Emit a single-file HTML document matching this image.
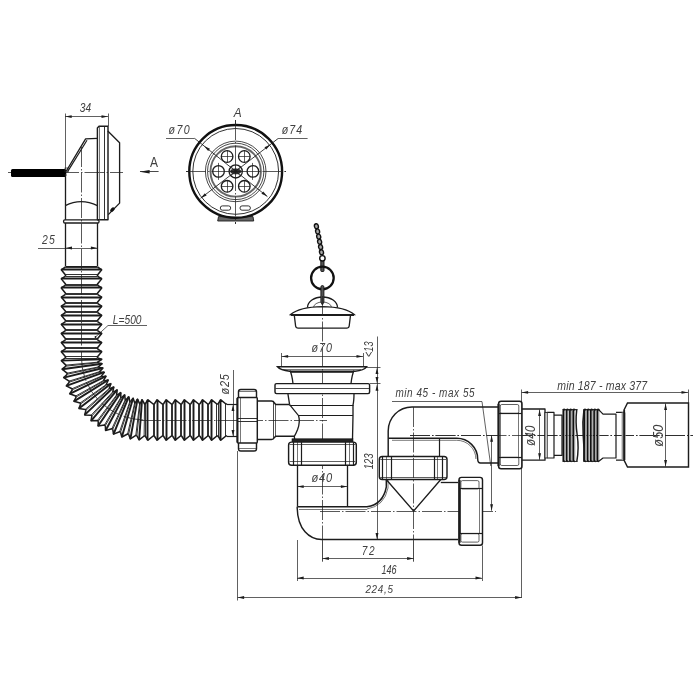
<!DOCTYPE html>
<html><head><meta charset="utf-8"><style>
html,body{margin:0;padding:0;background:#fff;}
svg{display:block;will-change:transform;}
text{font-family:"Liberation Sans",sans-serif;}
.t{opacity:0.995;}
</style></head><body>
<svg width="700" height="700" viewBox="0 0 700 700">
<rect width="700" height="700" fill="#fff"/>
<line x1="8" y1="172.5" x2="123" y2="172.5" stroke="#222" stroke-width="0.75" stroke-dasharray="20 2 1.5 2"/>
<rect x="11" y="168.9" width="55.3" height="8" rx="1.5" fill="#000"/>
<line x1="65.5" y1="113.5" x2="65.5" y2="169" stroke="#1c1c1c" stroke-width="0.70" />
<line x1="108.5" y1="113.5" x2="108.5" y2="126" stroke="#1c1c1c" stroke-width="0.70" />
<line x1="65.2" y1="116.5" x2="108" y2="116.5" stroke="#1c1c1c" stroke-width="0.70" />
<path d="M65.2,116.6 L71.7,115.15 L71.7,118.05 Z" fill="#1c1c1c" stroke="none"/>
<path d="M108,116.6 L101.5,118.05 L101.5,115.15 Z" fill="#1c1c1c" stroke="none"/>
<text class="t" transform="translate(79.75,112.4) scale(0.829,1)" font-size="12.29" font-style="italic" fill="#404040">34</text>
<path d="M97.4,219.8 L97.4,128 L99,126.3 L108,126.3 L108,219.8 L97.4,219.8 Z" fill="none" stroke="#1c1c1c" stroke-width="1.44" stroke-linejoin="round"/>
<line x1="99.5" y1="126.8" x2="99.5" y2="219.3" stroke="#666" stroke-width="0.90" />
<line x1="104.5" y1="126.3" x2="104.5" y2="219.8" stroke="#1c1c1c" stroke-width="0.90" />
<path d="M107.8,131 L119.6,142.8 L119.6,203.1 L108.3,214.6" fill="none" stroke="#1c1c1c" stroke-width="1.32" stroke-linejoin="round"/>
<ellipse cx="112.4" cy="209.6" rx="1.7" ry="2.7" transform="rotate(45 112.4 209.6)" fill="#111"/>
<path d="M97.4,138.4 L85.6,138.9 L66,171.5" fill="none" stroke="#1c1c1c" stroke-width="1.32" stroke-linejoin="round"/>
<line x1="87" y1="140.2" x2="67.6" y2="171.6" stroke="#1c1c1c" stroke-width="1.20" />
<rect x="65" y="168" width="3" height="4" fill="none" stroke="#222" stroke-width="0.70"/>
<line x1="65.5" y1="174" x2="65.5" y2="205.6" stroke="#1c1c1c" stroke-width="1.32" />
<path d="M65.2,205.6 Q81,197.5 97.4,205.6" fill="none" stroke="#1c1c1c" stroke-width="1.32" />
<line x1="65.5" y1="205.6" x2="65.5" y2="219.8" stroke="#1c1c1c" stroke-width="1.32" />
<rect x="63.6" y="219.8" width="35.4" height="3.2" rx="1.2" fill="none" stroke="#1c1c1c" stroke-width="1.32"/>
<line x1="65.5" y1="223" x2="65.5" y2="266.3" stroke="#1c1c1c" stroke-width="1.32" />
<line x1="97.5" y1="223" x2="97.5" y2="266.3" stroke="#1c1c1c" stroke-width="1.32" />
<line x1="65.5" y1="266.5" x2="97.4" y2="266.5" stroke="#1c1c1c" stroke-width="1.20" />
<line x1="81.5" y1="147" x2="81.5" y2="358" stroke="#222" stroke-width="0.75" stroke-dasharray="20 2 1.5 2"/>
<line x1="38" y1="248.5" x2="97.4" y2="248.5" stroke="#1c1c1c" stroke-width="0.70" />
<path d="M65.5,248 L72,246.55 L72,249.45 Z" fill="#1c1c1c" stroke="none"/>
<path d="M97.4,248 L90.9,249.45 L90.9,246.55 Z" fill="#1c1c1c" stroke="none"/>
<text class="t" transform="translate(42.1,243.9) scale(0.840,1)" font-size="12.43" font-style="italic" letter-spacing="1.37" fill="#404040">25</text>
<path d="M65.5,267 L61.3,269.78 L65.5,274.94 L65.5,276.1" fill="none" stroke="#1c1c1c" stroke-width="1.56" stroke-linejoin="round"/>
<path d="M97.5,267 L101.7,269.78 L97.5,274.94 L97.5,276.1" fill="none" stroke="#1c1c1c" stroke-width="1.56" stroke-linejoin="round"/>
<line x1="65.5" y1="267.5" x2="97.5" y2="267.5" stroke="#1c1c1c" stroke-width="0.90" />
<line x1="61.3" y1="269.5" x2="101.7" y2="269.5" stroke="#1c1c1c" stroke-width="1.92" />
<line x1="65.5" y1="274.5" x2="97.5" y2="274.5" stroke="#1c1c1c" stroke-width="0.90" />
<path d="M65.5,276.1 L61.3,278.88 L65.5,284.04 L65.5,285.2" fill="none" stroke="#1c1c1c" stroke-width="1.56" stroke-linejoin="round"/>
<path d="M97.5,276.1 L101.7,278.88 L97.5,284.04 L97.5,285.2" fill="none" stroke="#1c1c1c" stroke-width="1.56" stroke-linejoin="round"/>
<line x1="65.5" y1="276.5" x2="97.5" y2="276.5" stroke="#1c1c1c" stroke-width="0.90" />
<line x1="61.3" y1="278.5" x2="101.7" y2="278.5" stroke="#1c1c1c" stroke-width="1.92" />
<line x1="65.5" y1="284.5" x2="97.5" y2="284.5" stroke="#1c1c1c" stroke-width="0.90" />
<path d="M65.5,285.2 L61.3,287.98 L65.5,293.14 L65.5,294.3" fill="none" stroke="#1c1c1c" stroke-width="1.56" stroke-linejoin="round"/>
<path d="M97.5,285.2 L101.7,287.98 L97.5,293.14 L97.5,294.3" fill="none" stroke="#1c1c1c" stroke-width="1.56" stroke-linejoin="round"/>
<line x1="65.5" y1="285.5" x2="97.5" y2="285.5" stroke="#1c1c1c" stroke-width="0.90" />
<line x1="61.3" y1="287.5" x2="101.7" y2="287.5" stroke="#1c1c1c" stroke-width="1.92" />
<line x1="65.5" y1="293.5" x2="97.5" y2="293.5" stroke="#1c1c1c" stroke-width="0.90" />
<path d="M65.5,294.3 L61.3,297.08 L65.5,302.24 L65.5,303.4" fill="none" stroke="#1c1c1c" stroke-width="1.56" stroke-linejoin="round"/>
<path d="M97.5,294.3 L101.7,297.08 L97.5,302.24 L97.5,303.4" fill="none" stroke="#1c1c1c" stroke-width="1.56" stroke-linejoin="round"/>
<line x1="65.5" y1="294.5" x2="97.5" y2="294.5" stroke="#1c1c1c" stroke-width="0.90" />
<line x1="61.3" y1="297.5" x2="101.7" y2="297.5" stroke="#1c1c1c" stroke-width="1.92" />
<line x1="65.5" y1="302.5" x2="97.5" y2="302.5" stroke="#1c1c1c" stroke-width="0.90" />
<path d="M65.5,303.4 L61.3,306.18 L65.5,311.34 L65.5,312.5" fill="none" stroke="#1c1c1c" stroke-width="1.56" stroke-linejoin="round"/>
<path d="M97.5,303.4 L101.7,306.18 L97.5,311.34 L97.5,312.5" fill="none" stroke="#1c1c1c" stroke-width="1.56" stroke-linejoin="round"/>
<line x1="65.5" y1="303.5" x2="97.5" y2="303.5" stroke="#1c1c1c" stroke-width="0.90" />
<line x1="61.3" y1="306.5" x2="101.7" y2="306.5" stroke="#1c1c1c" stroke-width="1.92" />
<line x1="65.5" y1="311.5" x2="97.5" y2="311.5" stroke="#1c1c1c" stroke-width="0.90" />
<path d="M65.5,312.5 L61.3,315.28 L65.5,320.44 L65.5,321.6" fill="none" stroke="#1c1c1c" stroke-width="1.56" stroke-linejoin="round"/>
<path d="M97.5,312.5 L101.7,315.28 L97.5,320.44 L97.5,321.6" fill="none" stroke="#1c1c1c" stroke-width="1.56" stroke-linejoin="round"/>
<line x1="65.5" y1="312.5" x2="97.5" y2="312.5" stroke="#1c1c1c" stroke-width="0.90" />
<line x1="61.3" y1="315.5" x2="101.7" y2="315.5" stroke="#1c1c1c" stroke-width="1.92" />
<line x1="65.5" y1="320.5" x2="97.5" y2="320.5" stroke="#1c1c1c" stroke-width="0.90" />
<path d="M65.5,321.6 L61.3,324.38 L65.5,329.54 L65.5,330.7" fill="none" stroke="#1c1c1c" stroke-width="1.56" stroke-linejoin="round"/>
<path d="M97.5,321.6 L101.7,324.38 L97.5,329.54 L97.5,330.7" fill="none" stroke="#1c1c1c" stroke-width="1.56" stroke-linejoin="round"/>
<line x1="65.5" y1="321.5" x2="97.5" y2="321.5" stroke="#1c1c1c" stroke-width="0.90" />
<line x1="61.3" y1="324.5" x2="101.7" y2="324.5" stroke="#1c1c1c" stroke-width="1.92" />
<line x1="65.5" y1="329.5" x2="97.5" y2="329.5" stroke="#1c1c1c" stroke-width="0.90" />
<path d="M65.5,330.7 L61.3,333.48 L65.5,338.64 L65.5,339.8" fill="none" stroke="#1c1c1c" stroke-width="1.56" stroke-linejoin="round"/>
<path d="M97.5,330.7 L101.7,333.48 L97.5,338.64 L97.5,339.8" fill="none" stroke="#1c1c1c" stroke-width="1.56" stroke-linejoin="round"/>
<line x1="65.5" y1="330.5" x2="97.5" y2="330.5" stroke="#1c1c1c" stroke-width="0.90" />
<line x1="61.3" y1="333.5" x2="101.7" y2="333.5" stroke="#1c1c1c" stroke-width="1.92" />
<line x1="65.5" y1="338.5" x2="97.5" y2="338.5" stroke="#1c1c1c" stroke-width="0.90" />
<path d="M65.5,339.8 L61.3,342.58 L65.5,347.74 L65.5,348.9" fill="none" stroke="#1c1c1c" stroke-width="1.56" stroke-linejoin="round"/>
<path d="M97.5,339.8 L101.7,342.58 L97.5,347.74 L97.5,348.9" fill="none" stroke="#1c1c1c" stroke-width="1.56" stroke-linejoin="round"/>
<line x1="65.5" y1="339.5" x2="97.5" y2="339.5" stroke="#1c1c1c" stroke-width="0.90" />
<line x1="61.3" y1="342.5" x2="101.7" y2="342.5" stroke="#1c1c1c" stroke-width="1.92" />
<line x1="65.5" y1="347.5" x2="97.5" y2="347.5" stroke="#1c1c1c" stroke-width="0.90" />
<path d="M65.5,348.9 L61.3,351.68 L65.5,356.84 L65.5,358" fill="none" stroke="#1c1c1c" stroke-width="1.56" stroke-linejoin="round"/>
<path d="M97.5,348.9 L101.7,351.68 L97.5,356.84 L97.5,358" fill="none" stroke="#1c1c1c" stroke-width="1.56" stroke-linejoin="round"/>
<line x1="65.5" y1="348.5" x2="97.5" y2="348.5" stroke="#1c1c1c" stroke-width="0.90" />
<line x1="61.3" y1="351.5" x2="101.7" y2="351.5" stroke="#1c1c1c" stroke-width="1.92" />
<line x1="65.5" y1="356.5" x2="97.5" y2="356.5" stroke="#1c1c1c" stroke-width="0.90" />
<path d="M65.5,358 L61.34,360.63 L65.83,365.11 L65.94,366.15" fill="none" stroke="#1c1c1c" stroke-width="1.56" stroke-linejoin="round"/>
<path d="M97.5,358 L101.72,359.34 L97.7,362.2 L97.76,362.81" fill="none" stroke="#1c1c1c" stroke-width="1.56" stroke-linejoin="round"/>
<line x1="65.5" y1="358.5" x2="97.5" y2="358.5" stroke="#1c1c1c" stroke-width="0.90" />
<line x1="61.34" y1="360.63" x2="101.72" y2="359.34" stroke="#1c1c1c" stroke-width="1.92" />
<line x1="65.83" y1="365.11" x2="97.7" y2="362.2" stroke="#1c1c1c" stroke-width="0.90" />
<path d="M65.94,366.15 L62.08,369.2 L67.03,373.19 L67.24,374.22" fill="none" stroke="#1c1c1c" stroke-width="1.56" stroke-linejoin="round"/>
<path d="M97.76,362.81 L102.11,363.7 L98.41,366.96 L98.54,367.56" fill="none" stroke="#1c1c1c" stroke-width="1.56" stroke-linejoin="round"/>
<line x1="65.94" y1="366.15" x2="97.76" y2="362.81" stroke="#1c1c1c" stroke-width="0.90" />
<line x1="62.08" y1="369.2" x2="102.11" y2="363.7" stroke="#1c1c1c" stroke-width="1.92" />
<line x1="67.03" y1="373.19" x2="98.41" y2="366.96" stroke="#1c1c1c" stroke-width="0.90" />
<path d="M67.24,374.22 L63.73,377.65 L69.08,381.11 L69.4,382.1" fill="none" stroke="#1c1c1c" stroke-width="1.56" stroke-linejoin="round"/>
<path d="M98.54,367.56 L102.96,367.99 L99.64,371.63 L99.83,372.21" fill="none" stroke="#1c1c1c" stroke-width="1.56" stroke-linejoin="round"/>
<line x1="67.24" y1="374.22" x2="98.54" y2="367.56" stroke="#1c1c1c" stroke-width="0.90" />
<line x1="63.73" y1="377.65" x2="102.96" y2="367.99" stroke="#1c1c1c" stroke-width="1.92" />
<line x1="69.08" y1="381.11" x2="99.64" y2="371.63" stroke="#1c1c1c" stroke-width="0.90" />
<path d="M69.4,382.1 L66.28,385.89 L71.96,388.77 L72.39,389.73" fill="none" stroke="#1c1c1c" stroke-width="1.56" stroke-linejoin="round"/>
<path d="M99.83,372.21 L104.28,372.18 L101.37,376.15 L101.62,376.71" fill="none" stroke="#1c1c1c" stroke-width="1.56" stroke-linejoin="round"/>
<line x1="69.4" y1="382.1" x2="99.83" y2="372.21" stroke="#1c1c1c" stroke-width="0.90" />
<line x1="66.28" y1="385.89" x2="104.28" y2="372.18" stroke="#1c1c1c" stroke-width="1.92" />
<line x1="71.96" y1="388.77" x2="101.37" y2="376.15" stroke="#1c1c1c" stroke-width="0.90" />
<path d="M72.39,389.73 L69.68,393.82 L75.65,396.09 L76.18,397" fill="none" stroke="#1c1c1c" stroke-width="1.56" stroke-linejoin="round"/>
<path d="M101.62,376.71 L106.05,376.21 L103.58,380.46 L103.89,381" fill="none" stroke="#1c1c1c" stroke-width="1.56" stroke-linejoin="round"/>
<line x1="72.39" y1="389.73" x2="101.62" y2="376.71" stroke="#1c1c1c" stroke-width="0.90" />
<line x1="69.68" y1="393.82" x2="106.05" y2="376.21" stroke="#1c1c1c" stroke-width="1.92" />
<line x1="75.65" y1="396.09" x2="103.58" y2="380.46" stroke="#1c1c1c" stroke-width="0.90" />
<path d="M76.18,397 L73.92,401.36 L80.1,403 L80.72,403.85" fill="none" stroke="#1c1c1c" stroke-width="1.56" stroke-linejoin="round"/>
<path d="M103.89,381 L108.24,380.05 L106.24,384.54 L106.61,385.04" fill="none" stroke="#1c1c1c" stroke-width="1.56" stroke-linejoin="round"/>
<line x1="76.18" y1="397" x2="103.89" y2="381" stroke="#1c1c1c" stroke-width="0.90" />
<line x1="73.92" y1="401.36" x2="108.24" y2="380.05" stroke="#1c1c1c" stroke-width="1.92" />
<line x1="80.1" y1="403" x2="106.24" y2="384.54" stroke="#1c1c1c" stroke-width="0.90" />
<path d="M80.72,403.85 L78.94,408.42 L85.26,409.41 L85.97,410.19" fill="none" stroke="#1c1c1c" stroke-width="1.56" stroke-linejoin="round"/>
<path d="M106.61,385.04 L110.84,383.64 L109.33,388.32 L109.75,388.78" fill="none" stroke="#1c1c1c" stroke-width="1.56" stroke-linejoin="round"/>
<line x1="80.72" y1="403.85" x2="106.61" y2="385.04" stroke="#1c1c1c" stroke-width="0.90" />
<line x1="78.94" y1="408.42" x2="110.84" y2="383.64" stroke="#1c1c1c" stroke-width="1.92" />
<line x1="85.26" y1="409.41" x2="109.33" y2="388.32" stroke="#1c1c1c" stroke-width="0.90" />
<path d="M85.97,410.19 L84.68,414.93 L91.08,415.26 L91.87,415.97" fill="none" stroke="#1c1c1c" stroke-width="1.56" stroke-linejoin="round"/>
<path d="M109.75,388.78 L113.82,386.95 L112.81,391.77 L113.28,392.18" fill="none" stroke="#1c1c1c" stroke-width="1.56" stroke-linejoin="round"/>
<line x1="85.97" y1="410.19" x2="109.75" y2="388.78" stroke="#1c1c1c" stroke-width="0.90" />
<line x1="84.68" y1="414.93" x2="113.82" y2="386.95" stroke="#1c1c1c" stroke-width="1.92" />
<line x1="91.08" y1="415.26" x2="112.81" y2="391.77" stroke="#1c1c1c" stroke-width="0.90" />
<path d="M91.87,415.97 L91.08,420.81 L97.49,420.48 L98.35,421.1" fill="none" stroke="#1c1c1c" stroke-width="1.56" stroke-linejoin="round"/>
<path d="M113.28,392.18 L117.14,389.94 L116.65,394.85 L117.16,395.21" fill="none" stroke="#1c1c1c" stroke-width="1.56" stroke-linejoin="round"/>
<line x1="91.87" y1="415.97" x2="113.28" y2="392.18" stroke="#1c1c1c" stroke-width="0.90" />
<line x1="91.08" y1="420.81" x2="117.14" y2="389.94" stroke="#1c1c1c" stroke-width="1.92" />
<line x1="97.49" y1="420.48" x2="116.65" y2="394.85" stroke="#1c1c1c" stroke-width="0.90" />
<path d="M98.35,421.1 L98.08,426.01 L104.43,425.02 L105.35,425.55" fill="none" stroke="#1c1c1c" stroke-width="1.56" stroke-linejoin="round"/>
<path d="M117.16,395.21 L120.77,392.59 L120.8,397.53 L121.35,397.84" fill="none" stroke="#1c1c1c" stroke-width="1.56" stroke-linejoin="round"/>
<line x1="98.35" y1="421.1" x2="117.16" y2="395.21" stroke="#1c1c1c" stroke-width="0.90" />
<line x1="98.08" y1="426.01" x2="120.77" y2="392.59" stroke="#1c1c1c" stroke-width="1.92" />
<line x1="104.43" y1="425.02" x2="120.8" y2="397.53" stroke="#1c1c1c" stroke-width="0.90" />
<path d="M105.35,425.55 L105.6,430.47 L111.81,428.83 L112.78,429.26" fill="none" stroke="#1c1c1c" stroke-width="1.56" stroke-linejoin="round"/>
<path d="M121.35,397.84 L124.67,394.85 L125.22,399.77 L125.8,400.02" fill="none" stroke="#1c1c1c" stroke-width="1.56" stroke-linejoin="round"/>
<line x1="105.35" y1="425.55" x2="121.35" y2="397.84" stroke="#1c1c1c" stroke-width="0.90" />
<line x1="105.6" y1="430.47" x2="124.67" y2="394.85" stroke="#1c1c1c" stroke-width="1.92" />
<line x1="111.81" y1="428.83" x2="125.22" y2="399.77" stroke="#1c1c1c" stroke-width="0.90" />
<path d="M112.78,429.26 L113.54,434.12 L119.56,431.85 L120.57,432.18" fill="none" stroke="#1c1c1c" stroke-width="1.56" stroke-linejoin="round"/>
<path d="M125.8,400.02 L128.79,396.71 L129.85,401.55 L130.46,401.75" fill="none" stroke="#1c1c1c" stroke-width="1.56" stroke-linejoin="round"/>
<line x1="112.78" y1="429.26" x2="125.8" y2="400.02" stroke="#1c1c1c" stroke-width="0.90" />
<line x1="113.54" y1="434.12" x2="128.79" y2="396.71" stroke="#1c1c1c" stroke-width="1.92" />
<line x1="119.56" y1="431.85" x2="129.85" y2="401.55" stroke="#1c1c1c" stroke-width="0.90" />
<path d="M120.57,432.18 L121.84,436.95 L127.59,434.07 L128.63,434.3" fill="none" stroke="#1c1c1c" stroke-width="1.56" stroke-linejoin="round"/>
<path d="M130.46,401.75 L133.09,398.15 L134.66,402.86 L135.28,402.99" fill="none" stroke="#1c1c1c" stroke-width="1.56" stroke-linejoin="round"/>
<line x1="120.57" y1="432.18" x2="130.46" y2="401.75" stroke="#1c1c1c" stroke-width="0.90" />
<line x1="121.84" y1="436.95" x2="133.09" y2="398.15" stroke="#1c1c1c" stroke-width="1.92" />
<line x1="127.59" y1="434.07" x2="134.66" y2="402.86" stroke="#1c1c1c" stroke-width="0.90" />
<path d="M128.63,434.3 L130.39,438.91 L135.81,435.46 L136.87,435.57" fill="none" stroke="#1c1c1c" stroke-width="1.56" stroke-linejoin="round"/>
<path d="M135.28,402.99 L137.52,399.14 L139.58,403.68 L140.21,403.75" fill="none" stroke="#1c1c1c" stroke-width="1.56" stroke-linejoin="round"/>
<line x1="128.63" y1="434.3" x2="135.28" y2="402.99" stroke="#1c1c1c" stroke-width="0.90" />
<line x1="130.39" y1="438.91" x2="137.52" y2="399.14" stroke="#1c1c1c" stroke-width="1.92" />
<line x1="135.81" y1="435.46" x2="139.58" y2="403.68" stroke="#1c1c1c" stroke-width="0.90" />
<path d="M136.87,435.57 L139.1,439.98 L144.13,435.99 L145.2,436" fill="none" stroke="#1c1c1c" stroke-width="1.56" stroke-linejoin="round"/>
<path d="M140.21,403.75 L142.04,399.69 L144.56,404 L145.2,404" fill="none" stroke="#1c1c1c" stroke-width="1.56" stroke-linejoin="round"/>
<line x1="136.87" y1="435.57" x2="140.21" y2="403.75" stroke="#1c1c1c" stroke-width="0.90" />
<line x1="139.1" y1="439.98" x2="142.04" y2="399.69" stroke="#1c1c1c" stroke-width="1.92" />
<line x1="144.13" y1="435.99" x2="144.56" y2="404" stroke="#1c1c1c" stroke-width="0.90" />
<path d="M81.5,358.0 A63.7,62.0 0 0 0 145.2,420.0" fill="none" stroke="#222" stroke-width="0.80" stroke-dasharray="20 2 1.5 2"/>
<path d="M145.2,436 L147.98,440.2 L153.14,436 L154.3,436" fill="none" stroke="#1c1c1c" stroke-width="1.56" stroke-linejoin="round"/>
<path d="M145.2,404 L147.98,399.8 L153.14,404 L154.3,404" fill="none" stroke="#1c1c1c" stroke-width="1.56" stroke-linejoin="round"/>
<line x1="145.5" y1="436" x2="145.5" y2="404" stroke="#1c1c1c" stroke-width="0.90" />
<line x1="147.5" y1="440.2" x2="147.5" y2="399.8" stroke="#1c1c1c" stroke-width="1.92" />
<line x1="153.5" y1="436" x2="153.5" y2="404" stroke="#1c1c1c" stroke-width="0.90" />
<path d="M154.3,436 L157.08,440.2 L162.24,436 L163.4,436" fill="none" stroke="#1c1c1c" stroke-width="1.56" stroke-linejoin="round"/>
<path d="M154.3,404 L157.08,399.8 L162.24,404 L163.4,404" fill="none" stroke="#1c1c1c" stroke-width="1.56" stroke-linejoin="round"/>
<line x1="154.5" y1="436" x2="154.5" y2="404" stroke="#1c1c1c" stroke-width="0.90" />
<line x1="157.5" y1="440.2" x2="157.5" y2="399.8" stroke="#1c1c1c" stroke-width="1.92" />
<line x1="162.5" y1="436" x2="162.5" y2="404" stroke="#1c1c1c" stroke-width="0.90" />
<path d="M163.4,436 L166.18,440.2 L171.34,436 L172.5,436" fill="none" stroke="#1c1c1c" stroke-width="1.56" stroke-linejoin="round"/>
<path d="M163.4,404 L166.18,399.8 L171.34,404 L172.5,404" fill="none" stroke="#1c1c1c" stroke-width="1.56" stroke-linejoin="round"/>
<line x1="163.5" y1="436" x2="163.5" y2="404" stroke="#1c1c1c" stroke-width="0.90" />
<line x1="166.5" y1="440.2" x2="166.5" y2="399.8" stroke="#1c1c1c" stroke-width="1.92" />
<line x1="171.5" y1="436" x2="171.5" y2="404" stroke="#1c1c1c" stroke-width="0.90" />
<path d="M172.5,436 L175.28,440.2 L180.44,436 L181.6,436" fill="none" stroke="#1c1c1c" stroke-width="1.56" stroke-linejoin="round"/>
<path d="M172.5,404 L175.28,399.8 L180.44,404 L181.6,404" fill="none" stroke="#1c1c1c" stroke-width="1.56" stroke-linejoin="round"/>
<line x1="172.5" y1="436" x2="172.5" y2="404" stroke="#1c1c1c" stroke-width="0.90" />
<line x1="175.5" y1="440.2" x2="175.5" y2="399.8" stroke="#1c1c1c" stroke-width="1.92" />
<line x1="180.5" y1="436" x2="180.5" y2="404" stroke="#1c1c1c" stroke-width="0.90" />
<path d="M181.6,436 L184.38,440.2 L189.54,436 L190.7,436" fill="none" stroke="#1c1c1c" stroke-width="1.56" stroke-linejoin="round"/>
<path d="M181.6,404 L184.38,399.8 L189.54,404 L190.7,404" fill="none" stroke="#1c1c1c" stroke-width="1.56" stroke-linejoin="round"/>
<line x1="181.5" y1="436" x2="181.5" y2="404" stroke="#1c1c1c" stroke-width="0.90" />
<line x1="184.5" y1="440.2" x2="184.5" y2="399.8" stroke="#1c1c1c" stroke-width="1.92" />
<line x1="189.5" y1="436" x2="189.5" y2="404" stroke="#1c1c1c" stroke-width="0.90" />
<path d="M190.7,436 L193.48,440.2 L198.64,436 L199.8,436" fill="none" stroke="#1c1c1c" stroke-width="1.56" stroke-linejoin="round"/>
<path d="M190.7,404 L193.48,399.8 L198.64,404 L199.8,404" fill="none" stroke="#1c1c1c" stroke-width="1.56" stroke-linejoin="round"/>
<line x1="190.5" y1="436" x2="190.5" y2="404" stroke="#1c1c1c" stroke-width="0.90" />
<line x1="193.5" y1="440.2" x2="193.5" y2="399.8" stroke="#1c1c1c" stroke-width="1.92" />
<line x1="198.5" y1="436" x2="198.5" y2="404" stroke="#1c1c1c" stroke-width="0.90" />
<path d="M199.8,436 L202.58,440.2 L207.74,436 L208.9,436" fill="none" stroke="#1c1c1c" stroke-width="1.56" stroke-linejoin="round"/>
<path d="M199.8,404 L202.58,399.8 L207.74,404 L208.9,404" fill="none" stroke="#1c1c1c" stroke-width="1.56" stroke-linejoin="round"/>
<line x1="199.5" y1="436" x2="199.5" y2="404" stroke="#1c1c1c" stroke-width="0.90" />
<line x1="202.5" y1="440.2" x2="202.5" y2="399.8" stroke="#1c1c1c" stroke-width="1.92" />
<line x1="207.5" y1="436" x2="207.5" y2="404" stroke="#1c1c1c" stroke-width="0.90" />
<path d="M208.9,436 L211.68,440.2 L216.84,436 L218,436" fill="none" stroke="#1c1c1c" stroke-width="1.56" stroke-linejoin="round"/>
<path d="M208.9,404 L211.68,399.8 L216.84,404 L218,404" fill="none" stroke="#1c1c1c" stroke-width="1.56" stroke-linejoin="round"/>
<line x1="208.5" y1="436" x2="208.5" y2="404" stroke="#1c1c1c" stroke-width="0.90" />
<line x1="211.5" y1="440.2" x2="211.5" y2="399.8" stroke="#1c1c1c" stroke-width="1.92" />
<line x1="216.5" y1="436" x2="216.5" y2="404" stroke="#1c1c1c" stroke-width="0.90" />
<path d="M218,436 L220.78,440.2 L225.94,436 L227.1,436" fill="none" stroke="#1c1c1c" stroke-width="1.56" stroke-linejoin="round"/>
<path d="M218,404 L220.78,399.8 L225.94,404 L227.1,404" fill="none" stroke="#1c1c1c" stroke-width="1.56" stroke-linejoin="round"/>
<line x1="218.5" y1="436" x2="218.5" y2="404" stroke="#1c1c1c" stroke-width="0.90" />
<line x1="220.5" y1="440.2" x2="220.5" y2="399.8" stroke="#1c1c1c" stroke-width="1.92" />
<line x1="225.5" y1="436" x2="225.5" y2="404" stroke="#1c1c1c" stroke-width="0.90" />
<line x1="141" y1="420.5" x2="327" y2="420.5" stroke="#222" stroke-width="0.75" stroke-dasharray="20 2 1.5 2"/>
<line x1="227" y1="404.5" x2="238" y2="404.5" stroke="#1c1c1c" stroke-width="1.20" />
<line x1="227" y1="436.5" x2="238" y2="436.5" stroke="#1c1c1c" stroke-width="1.20" />
<line x1="233.5" y1="370" x2="233.5" y2="436.4" stroke="#1c1c1c" stroke-width="0.70" />
<path d="M233,404.4 L234.45,410.9 L231.55,410.9 Z" fill="#1c1c1c" stroke="none"/>
<path d="M233,436.4 L231.55,429.9 L234.45,429.9 Z" fill="#1c1c1c" stroke="none"/>
<text class="t" transform="translate(228.58,394.44) rotate(-90) scale(0.840,1)" font-size="12.97" font-style="italic" letter-spacing="0.93" fill="#404040">ø25</text>
<text class="t" transform="translate(112.85,323.6) scale(0.840,1)" font-size="12.14" font-style="italic" fill="#404040">L=500</text>
<line x1="108" y1="325.5" x2="147" y2="325.5" stroke="#1c1c1c" stroke-width="0.70" />
<line x1="108" y1="325.5" x2="95.5" y2="337" stroke="#1c1c1c" stroke-width="0.70" />
<circle cx="95.5" cy="337" r="0.9" fill="#111"/>
<line x1="186" y1="171.5" x2="286" y2="171.5" stroke="#222" stroke-width="0.75" stroke-dasharray="20 2 1.5 2"/>
<line x1="235.5" y1="120" x2="235.5" y2="224" stroke="#222" stroke-width="0.75" stroke-dasharray="20 2 1.5 2"/>
<path d="M217.7,221 L218.5,216.6 L253,216.6 L253.7,221 Z" fill="#666" stroke="#1c1c1c" stroke-width="0.90"/>
<circle cx="235.7" cy="171.4" r="46.4" fill="#fff" stroke="#111" stroke-width="2.40"/>
<circle cx="235.7" cy="171.4" r="42.9" fill="none" stroke="#1c1c1c" stroke-width="0.90"/>
<circle cx="235.7" cy="171.4" r="30.3" fill="none" stroke="#1c1c1c" stroke-width="0.80"/>
<circle cx="235.7" cy="171.4" r="28.2" fill="none" stroke="#1c1c1c" stroke-width="0.80"/>
<circle cx="235.7" cy="171.4" r="25.2" fill="none" stroke="#666" stroke-width="1.92"/>
<line x1="186" y1="171.5" x2="286" y2="171.5" stroke="#222" stroke-width="0.75" stroke-dasharray="20 2 1.5 2"/>
<line x1="235.5" y1="120" x2="235.5" y2="224" stroke="#222" stroke-width="0.75" stroke-dasharray="20 2 1.5 2"/>
<circle cx="252.9" cy="171.4" r="5.8" fill="#fff" stroke="#1c1c1c" stroke-width="1.32"/>
<line x1="247.1" y1="171.5" x2="258.7" y2="171.5" stroke="#1c1c1c" stroke-width="0.70" />
<line x1="252.5" y1="162.9" x2="252.5" y2="179.9" stroke="#1c1c1c" stroke-width="0.70" />
<circle cx="244.3" cy="186.3" r="5.8" fill="#fff" stroke="#1c1c1c" stroke-width="1.32"/>
<line x1="238.5" y1="186.5" x2="250.1" y2="186.5" stroke="#1c1c1c" stroke-width="0.70" />
<line x1="244.5" y1="180.3" x2="244.5" y2="192.3" stroke="#1c1c1c" stroke-width="0.70" />
<circle cx="227.1" cy="186.3" r="5.8" fill="#fff" stroke="#1c1c1c" stroke-width="1.32"/>
<line x1="221.3" y1="186.5" x2="232.9" y2="186.5" stroke="#1c1c1c" stroke-width="0.70" />
<line x1="227.5" y1="180.3" x2="227.5" y2="192.3" stroke="#1c1c1c" stroke-width="0.70" />
<circle cx="218.5" cy="171.4" r="5.8" fill="#fff" stroke="#1c1c1c" stroke-width="1.32"/>
<line x1="212.7" y1="171.5" x2="224.3" y2="171.5" stroke="#1c1c1c" stroke-width="0.70" />
<line x1="218.5" y1="162.9" x2="218.5" y2="179.9" stroke="#1c1c1c" stroke-width="0.70" />
<circle cx="227.1" cy="156.5" r="5.8" fill="#fff" stroke="#1c1c1c" stroke-width="1.32"/>
<line x1="221.3" y1="156.5" x2="232.9" y2="156.5" stroke="#1c1c1c" stroke-width="0.70" />
<line x1="227.5" y1="150.5" x2="227.5" y2="162.5" stroke="#1c1c1c" stroke-width="0.70" />
<circle cx="244.3" cy="156.5" r="5.8" fill="#fff" stroke="#1c1c1c" stroke-width="1.32"/>
<line x1="238.5" y1="156.5" x2="250.1" y2="156.5" stroke="#1c1c1c" stroke-width="0.70" />
<line x1="244.5" y1="150.5" x2="244.5" y2="162.5" stroke="#1c1c1c" stroke-width="0.70" />
<circle cx="235.7" cy="171.4" r="6.6" fill="#fff" stroke="#1c1c1c" stroke-width="1.32"/>
<ellipse cx="235.7" cy="171.4" rx="5.3" ry="2.6" fill="#333" stroke="#1c1c1c" stroke-width="0.60"/>
<line x1="229.3" y1="171.5" x2="242.1" y2="171.5" stroke="#1c1c1c" stroke-width="0.80" />
<line x1="235.5" y1="165" x2="235.5" y2="177.8" stroke="#1c1c1c" stroke-width="0.80" />
<line x1="231.1" y1="166.8" x2="240.3" y2="176" stroke="#1c1c1c" stroke-width="0.60" />
<line x1="231.1" y1="176" x2="240.3" y2="166.8" stroke="#1c1c1c" stroke-width="0.60" />
<rect x="220.3" y="205.9" width="10.4" height="4.3" rx="2.1" fill="none" stroke="#1c1c1c" stroke-width="0.90"/>
<rect x="240" y="205.9" width="10.4" height="4.3" rx="2.1" fill="none" stroke="#1c1c1c" stroke-width="0.90"/>
<text class="t" transform="translate(233.69,117) scale(0.954,1)" font-size="12.43" font-style="italic" fill="#404040">A</text>
<line x1="166" y1="138.5" x2="194.6" y2="138.5" stroke="#1c1c1c" stroke-width="0.70" />
<line x1="194.6" y1="138.4" x2="267.4" y2="196.6" stroke="#1c1c1c" stroke-width="0.85" />
<path d="M267.4,196.6 L261.42,193.67 L263.23,191.41 Z" fill="#1c1c1c" stroke="none"/>
<path d="M204,145.9 L209.98,148.83 L208.17,151.09 Z" fill="#1c1c1c" stroke="none"/>
<text class="t" transform="translate(168.57,134.18) scale(0.840,1)" font-size="12.69" font-style="italic" letter-spacing="1.63" fill="#404040">ø70</text>
<line x1="278" y1="138.5" x2="307.6" y2="138.5" stroke="#1c1c1c" stroke-width="0.70" />
<line x1="278" y1="138.6" x2="200.6" y2="198.3" stroke="#1c1c1c" stroke-width="0.85" />
<path d="M200.6,198.3 L204.86,193.18 L206.63,195.48 Z" fill="#1c1c1c" stroke="none"/>
<path d="M270.5,144.4 L266.24,149.52 L264.47,147.22 Z" fill="#1c1c1c" stroke="none"/>
<text class="t" transform="translate(281.77,134.18) scale(0.840,1)" font-size="12.69" font-style="italic" letter-spacing="1.24" fill="#404040">ø74</text>
<line x1="140" y1="171.5" x2="158.6" y2="171.5" stroke="#1c1c1c" stroke-width="0.80" />
<path d="M139.6,171.7 L149.6,170 L149.6,173.4 Z" fill="#1c1c1c" stroke="none"/>
<text class="t" transform="translate(150.1,167.3) scale(0.840,1)" font-size="14.29" font-style="normal" fill="#404040">A</text>
<path d="M238.5,397.5 L238.5,391.8 Q238.5,389.5 240.8,389.5 L254.2,389.5 Q256.5,389.5 256.5,391.8 L256.5,397.5" fill="#fff" stroke="#1c1c1c" stroke-width="1.44" />
<path d="M238.5,443 L238.5,448.7 Q238.5,451 240.8,451 L254.2,451 Q256.5,451 256.5,448.7 L256.5,443" fill="#fff" stroke="#1c1c1c" stroke-width="1.44" />
<line x1="239" y1="391.5" x2="256" y2="391.5" stroke="#1c1c1c" stroke-width="0.60" />
<line x1="239" y1="448.5" x2="256" y2="448.5" stroke="#1c1c1c" stroke-width="0.60" />
<rect x="237.3" y="397.5" width="20" height="45.5" rx="1" fill="#fff" stroke="#1c1c1c" stroke-width="1.44"/>
<line x1="237.5" y1="398" x2="237.5" y2="442.5" stroke="#1c1c1c" stroke-width="1.92" />
<line x1="240.5" y1="397.5" x2="240.5" y2="443" stroke="#1c1c1c" stroke-width="0.60" />
<line x1="237.3" y1="418.5" x2="257.3" y2="418.5" stroke="#1c1c1c" stroke-width="0.90" />
<line x1="237.3" y1="421.5" x2="257.3" y2="421.5" stroke="#1c1c1c" stroke-width="0.90" />
<path d="M257.3,401 L271.5,401 Q273.5,401 274.5,403 L275.7,404.5 L289.6,404.5" fill="none" stroke="#1c1c1c" stroke-width="1.44" />
<path d="M257.3,439.5 L271.5,439.5 Q273.5,439.5 274.5,437.5 L275.7,436.2 L294.3,436.2" fill="none" stroke="#1c1c1c" stroke-width="1.44" />
<line x1="273.5" y1="401.5" x2="273.5" y2="439" stroke="#1c1c1c" stroke-width="0.80" />
<line x1="275.5" y1="404.5" x2="275.5" y2="436" stroke="#1c1c1c" stroke-width="0.70" />
<ellipse cx="316.4" cy="226.2" rx="2.0" ry="2.5" transform="rotate(-12 316.4 226.2)" fill="#aaa" stroke="#111" stroke-width="1.38"/>
<ellipse cx="317.6" cy="231.4" rx="2.0" ry="2.5" transform="rotate(-12 317.6 231.4)" fill="#aaa" stroke="#111" stroke-width="1.38"/>
<ellipse cx="318.7" cy="236.6" rx="2.0" ry="2.5" transform="rotate(-12 318.7 236.6)" fill="#aaa" stroke="#111" stroke-width="1.38"/>
<ellipse cx="319.6" cy="241.8" rx="2.0" ry="2.5" transform="rotate(-12 319.6 241.8)" fill="#aaa" stroke="#111" stroke-width="1.38"/>
<ellipse cx="320.6" cy="247" rx="2.0" ry="2.5" transform="rotate(-12 320.6 247)" fill="#aaa" stroke="#111" stroke-width="1.38"/>
<ellipse cx="321.5" cy="252.2" rx="2.0" ry="2.5" transform="rotate(-12 321.5 252.2)" fill="#aaa" stroke="#111" stroke-width="1.38"/>
<rect x="320.8" y="259" width="3.2" height="12.5" rx="0.8" fill="#555" stroke="#111" stroke-width="0.90"/>
<circle cx="322.4" cy="258.3" r="2.7" fill="#fff" stroke="#111" stroke-width="1.44"/>
<circle cx="322.4" cy="278" r="11.3" fill="none" stroke="#111" stroke-width="2.28"/>
<path d="M307.5,307.5 A15,10.5 0 0 1 337.5,307.5" fill="#fff" stroke="#1c1c1c" stroke-width="1.32" />
<path d="M313.5,307.5 A9,5.5 0 0 1 331.5,307.5" fill="none" stroke="#1c1c1c" stroke-width="0.70" />
<path d="M320.9,287 Q320.9,285.5 322.4,285.5 Q323.9,285.5 323.9,287 L323.9,302 L322.4,305 L320.9,302 Z" fill="#555" stroke="#111" stroke-width="0.90"/>
<path d="M290.6,314.6 C296,310 308,306.8 322.4,306.6 C337,306.8 349,310 354.2,314.6 Z" fill="#fff" stroke="#1c1c1c" stroke-width="1.32" />
<path d="M294.3,315.3 L295.6,326 Q296,328.2 298.2,328.2 L346.6,328.2 Q348.8,328.2 349.2,326 L350.5,315.3" fill="none" stroke="#1c1c1c" stroke-width="1.32" />
<line x1="290.8" y1="315.5" x2="354" y2="315.5" stroke="#1c1c1c" stroke-width="1.20" />
<line x1="322.5" y1="296" x2="322.5" y2="541" stroke="#222" stroke-width="0.75" stroke-dasharray="20 2 1.5 2"/>
<line x1="322.5" y1="541" x2="322.5" y2="561.7" stroke="#1c1c1c" stroke-width="0.80" />
<line x1="281.5" y1="353" x2="281.5" y2="367" stroke="#1c1c1c" stroke-width="0.70" />
<line x1="363.5" y1="353" x2="363.5" y2="367" stroke="#1c1c1c" stroke-width="0.70" />
<line x1="281.6" y1="356.5" x2="363" y2="356.5" stroke="#1c1c1c" stroke-width="0.70" />
<path d="M281.6,356.4 L288.1,354.95 L288.1,357.85 Z" fill="#1c1c1c" stroke="none"/>
<path d="M363,356.4 L356.5,357.85 L356.5,354.95 Z" fill="#1c1c1c" stroke="none"/>
<text class="t" transform="translate(311.56,351.58) scale(0.840,1)" font-size="12.83" font-style="italic" letter-spacing="1.16" fill="#404040">ø70</text>
<path d="M277.5,366.8 L366.5,366.8 Q364,370.3 355,371.2 L289.7,371.2 Q280.5,370.3 277.5,366.8 Z" fill="none" stroke="#1c1c1c" stroke-width="1.44" />
<line x1="283" y1="369.5" x2="361" y2="369.5" stroke="#1c1c1c" stroke-width="0.60" />
<path d="M290,370.6 Q292,375 293,383.6 M354,370.6 Q352,375 351,383.6" fill="none" stroke="#1c1c1c" stroke-width="1.32" />
<line x1="291" y1="372.5" x2="353" y2="372.5" stroke="#1c1c1c" stroke-width="0.80" />
<rect x="275" y="383.6" width="94.6" height="10" rx="1.5" fill="#fff" stroke="#1c1c1c" stroke-width="1.44"/>
<line x1="275.5" y1="388.5" x2="369.2" y2="388.5" stroke="#1c1c1c" stroke-width="0.80" />
<path d="M287.9,393.6 L289.6,404.6" fill="none" stroke="#1c1c1c" stroke-width="1.32" />
<path d="M354,393.6 Q354,401 353,405 L353,415.6 L352.5,439" fill="none" stroke="#1c1c1c" stroke-width="1.32" />
<line x1="289.6" y1="405.5" x2="353.5" y2="405.5" stroke="#1c1c1c" stroke-width="1.20" />
<line x1="298.6" y1="415.5" x2="353" y2="415.5" stroke="#1c1c1c" stroke-width="1.20" />
<path d="M289.6,404.6 L298.6,415.7 Q300.4,422 297.6,429.5 Q295.6,434.5 294.3,436.3 L294.6,439" fill="none" stroke="#1c1c1c" stroke-width="1.32" />
<rect x="292" y="438.8" width="61" height="3.6" fill="#222" stroke="#111" stroke-width="0.60"/>
<rect x="288.6" y="442.1" width="67.7" height="23.2" rx="3" fill="#fff" stroke="#1c1c1c" stroke-width="1.44"/>
<line x1="289.6" y1="444.5" x2="355.3" y2="444.5" stroke="#1c1c1c" stroke-width="0.70" />
<line x1="289.6" y1="461.5" x2="355.3" y2="461.5" stroke="#1c1c1c" stroke-width="0.70" />
<line x1="293.5" y1="442.1" x2="293.5" y2="465.3" stroke="#1c1c1c" stroke-width="1.20" />
<line x1="297.5" y1="442.1" x2="297.5" y2="465.3" stroke="#1c1c1c" stroke-width="0.60" />
<line x1="301.5" y1="442.1" x2="301.5" y2="465.3" stroke="#1c1c1c" stroke-width="1.20" />
<line x1="353.5" y1="442.1" x2="353.5" y2="465.3" stroke="#1c1c1c" stroke-width="1.20" />
<line x1="349.5" y1="442.1" x2="349.5" y2="465.3" stroke="#1c1c1c" stroke-width="0.60" />
<line x1="345.5" y1="442.1" x2="345.5" y2="465.3" stroke="#1c1c1c" stroke-width="1.20" />
<line x1="295.5" y1="465.5" x2="352" y2="465.5" stroke="#1c1c1c" stroke-width="1.20" />
<line x1="297.5" y1="465" x2="297.5" y2="506.8" stroke="#1c1c1c" stroke-width="1.32" />
<line x1="347.5" y1="465" x2="347.5" y2="506.8" stroke="#1c1c1c" stroke-width="1.32" />
<line x1="297.2" y1="486.5" x2="347.4" y2="486.5" stroke="#1c1c1c" stroke-width="0.70" />
<path d="M297.2,486.6 L303.7,485.15 L303.7,488.05 Z" fill="#1c1c1c" stroke="none"/>
<path d="M347.4,486.6 L340.9,488.05 L340.9,485.15 Z" fill="#1c1c1c" stroke="none"/>
<text class="t" transform="translate(311.54,481.67) scale(0.840,1)" font-size="13.24" font-style="italic" letter-spacing="0.82" fill="#404040">ø40</text>
<path d="M297.7,506.8 L367,506.8 Q383,504.5 386.3,487 L386.3,479.5" fill="none" stroke="#1c1c1c" stroke-width="1.44" />
<path d="M367,509 Q384.5,506 388,488 L388,480" fill="none" stroke="#1c1c1c" stroke-width="0.60" />
<line x1="299" y1="509.5" x2="367" y2="509.5" stroke="#1c1c1c" stroke-width="0.60" />
<path d="M297.2,506.8 C297.2,530 310,539.5 321.5,539.5 L458,539.5" fill="none" stroke="#1c1c1c" stroke-width="1.44" />
<line x1="320" y1="511.5" x2="496" y2="511.5" stroke="#222" stroke-width="0.75" stroke-dasharray="20 2 1.5 2"/>
<path d="M386.2,479.5 L413.6,511 L440.8,479.5" fill="none" stroke="#1c1c1c" stroke-width="1.32" stroke-linejoin="round"/>
<line x1="440.8" y1="482.5" x2="458" y2="482.5" stroke="#1c1c1c" stroke-width="1.32" />
<rect x="379.3" y="456.5" width="67.7" height="23" rx="3" fill="#fff" stroke="#1c1c1c" stroke-width="1.44"/>
<line x1="380.3" y1="459.5" x2="446" y2="459.5" stroke="#1c1c1c" stroke-width="0.70" />
<line x1="380.3" y1="477.5" x2="446" y2="477.5" stroke="#1c1c1c" stroke-width="0.70" />
<line x1="382.5" y1="456.5" x2="382.5" y2="479.5" stroke="#1c1c1c" stroke-width="1.20" />
<line x1="386.5" y1="456.5" x2="386.5" y2="479.5" stroke="#1c1c1c" stroke-width="0.60" />
<line x1="391.5" y1="456.5" x2="391.5" y2="479.5" stroke="#1c1c1c" stroke-width="1.20" />
<line x1="442.5" y1="456.5" x2="442.5" y2="479.5" stroke="#1c1c1c" stroke-width="1.20" />
<line x1="437.5" y1="456.5" x2="437.5" y2="479.5" stroke="#1c1c1c" stroke-width="0.60" />
<line x1="434.5" y1="456.5" x2="434.5" y2="479.5" stroke="#1c1c1c" stroke-width="1.20" />
<path d="M388.2,456 L388.2,431 C388.2,417.7 398.7,407 412,407 L498,407" fill="none" stroke="#1c1c1c" stroke-width="1.44" />
<path d="M388.5,438.3 L456.7,438.3 A21,20.7 0 0 1 477.7,459 Q477.7,463 480.5,463 L498,463" fill="none" stroke="#1c1c1c" stroke-width="1.44" />
<path d="M392,440.3 L456.7,440.3 A19.2,18.7 0 0 1 475.9,459" fill="none" stroke="#1c1c1c" stroke-width="0.60" />
<line x1="439.5" y1="439" x2="439.5" y2="456" stroke="#1c1c1c" stroke-width="1.20" />
<line x1="413.5" y1="407" x2="413.5" y2="541" stroke="#222" stroke-width="0.75" stroke-dasharray="20 2 1.5 2"/>
<line x1="413.5" y1="541" x2="413.5" y2="561.7" stroke="#1c1c1c" stroke-width="0.80" />
<line x1="410" y1="435.5" x2="693" y2="435.5" stroke="#222" stroke-width="0.75" stroke-dasharray="20 2 1.5 2"/>
<rect x="459" y="477.4" width="23.5" height="67.9" rx="2.5" fill="#fff" stroke="#1c1c1c" stroke-width="1.44"/>
<line x1="459" y1="488.5" x2="482.5" y2="488.5" stroke="#1c1c1c" stroke-width="1.20" />
<line x1="459" y1="533.5" x2="482.5" y2="533.5" stroke="#1c1c1c" stroke-width="1.20" />
<rect x="460.9" y="480.6" width="18.1" height="8.3" rx="1.5" fill="none" stroke="#1c1c1c" stroke-width="0.70"/>
<rect x="460.9" y="533.6" width="18.1" height="8.5" rx="1.5" fill="none" stroke="#1c1c1c" stroke-width="0.70"/>
<line x1="460.5" y1="488.9" x2="460.5" y2="533.6" stroke="#1c1c1c" stroke-width="0.60" />
<line x1="479.5" y1="488.9" x2="479.5" y2="533.6" stroke="#1c1c1c" stroke-width="0.60" />
<line x1="459.5" y1="479.9" x2="459.5" y2="542.8" stroke="#1c1c1c" stroke-width="2.16" />
<rect x="498.6" y="401.3" width="23.4" height="67.4" rx="2.5" fill="#fff" stroke="#1c1c1c" stroke-width="1.44"/>
<line x1="498.6" y1="413.5" x2="522" y2="413.5" stroke="#1c1c1c" stroke-width="1.20" />
<line x1="498.6" y1="457.5" x2="522" y2="457.5" stroke="#1c1c1c" stroke-width="1.20" />
<rect x="500.3" y="404.5" width="18.5" height="8.8" rx="1.5" fill="none" stroke="#1c1c1c" stroke-width="0.70"/>
<rect x="500.3" y="457.3" width="18.5" height="8.2" rx="1.5" fill="none" stroke="#1c1c1c" stroke-width="0.70"/>
<line x1="500.5" y1="413.3" x2="500.5" y2="457.3" stroke="#1c1c1c" stroke-width="0.60" />
<line x1="518.5" y1="413.3" x2="518.5" y2="457.3" stroke="#1c1c1c" stroke-width="0.60" />
<line x1="498.5" y1="403.8" x2="498.5" y2="466.2" stroke="#1c1c1c" stroke-width="2.16" />
<line x1="410" y1="435.5" x2="693" y2="435.5" stroke="#222" stroke-width="0.75" stroke-dasharray="20 2 1.5 2"/>
<path d="M522,409 L545,409 L545,460.2 L522,460.2" fill="none" stroke="#1c1c1c" stroke-width="1.32" stroke-linejoin="round"/>
<line x1="539.5" y1="409.5" x2="539.5" y2="459.8" stroke="#1c1c1c" stroke-width="0.70" />
<path d="M539.6,409.5 L541.05,416 L538.15,416 Z" fill="#1c1c1c" stroke="none"/>
<path d="M539.6,459.8 L538.15,453.3 L541.05,453.3 Z" fill="#1c1c1c" stroke="none"/>
<text class="t" transform="translate(535.16,446.08) rotate(-90) scale(0.840,1)" font-size="13.79" font-style="italic" letter-spacing="0.35" fill="#404040">ø40</text>
<rect x="545" y="412.4" width="2.2" height="45.6" fill="#fff" stroke="#1c1c1c" stroke-width="0.90"/>
<path d="M547.2,412.4 L554,412.4 L554,458 L547.2,458" fill="none" stroke="#1c1c1c" stroke-width="1.20" stroke-linejoin="round"/>
<path d="M554,415.2 L562,415.2 L562,455.4 L554,455.4" fill="none" stroke="#1c1c1c" stroke-width="1.20" stroke-linejoin="round"/>
<rect x="563.9" y="409.8" width="1.5" height="51.2" fill="#a8a8a8"/>
<rect x="567.2" y="409.8" width="1.5" height="51.2" fill="#a8a8a8"/>
<rect x="570.5" y="409.8" width="1.5" height="51.2" fill="#a8a8a8"/>
<rect x="573.8" y="409.8" width="1.5" height="51.2" fill="#a8a8a8"/>
<path d="M563.3,461.2 L563.3,410.6 Q563.3,409.3 564.1,409.3 Q564.9,409.3 564.9,410.6 M563.3,460 Q563.3,461.4 564.9,461.4" fill="none" stroke="#111" stroke-width="1.68"/>
<path d="M566.6,461.2 L566.6,410.6 Q566.6,409.3 567.4,409.3 Q568.2,409.3 568.2,410.6 M566.6,460 Q566.6,461.4 568.2,461.4" fill="none" stroke="#111" stroke-width="1.68"/>
<path d="M569.9,461.2 L569.9,410.6 Q569.9,409.3 570.7,409.3 Q571.5,409.3 571.5,410.6 M569.9,460 Q569.9,461.4 571.5,461.4" fill="none" stroke="#111" stroke-width="1.68"/>
<path d="M573.2,461.2 L573.2,410.6 Q573.2,409.3 574,409.3 Q574.8,409.3 574.8,410.6 M573.2,460 Q573.2,461.4 574.8,461.4" fill="none" stroke="#111" stroke-width="1.68"/>
<rect x="584.8" y="409.8" width="1.5" height="51.2" fill="#a8a8a8"/>
<rect x="588.1" y="409.8" width="1.5" height="51.2" fill="#a8a8a8"/>
<rect x="591.4" y="409.8" width="1.5" height="51.2" fill="#a8a8a8"/>
<rect x="594.7" y="409.8" width="1.5" height="51.2" fill="#a8a8a8"/>
<rect x="597.9" y="409.8" width="1.5" height="51.2" fill="#a8a8a8"/>
<path d="M584.2,461.2 L584.2,410.6 Q584.2,409.3 585,409.3 Q585.8,409.3 585.8,410.6 M584.2,460 Q584.2,461.4 585.8,461.4" fill="none" stroke="#111" stroke-width="1.68"/>
<path d="M587.5,461.2 L587.5,410.6 Q587.5,409.3 588.3,409.3 Q589.1,409.3 589.1,410.6 M587.5,460 Q587.5,461.4 589.1,461.4" fill="none" stroke="#111" stroke-width="1.68"/>
<path d="M590.8,461.2 L590.8,410.6 Q590.8,409.3 591.6,409.3 Q592.4,409.3 592.4,410.6 M590.8,460 Q590.8,461.4 592.4,461.4" fill="none" stroke="#111" stroke-width="1.68"/>
<path d="M594.1,461.2 L594.1,410.6 Q594.1,409.3 594.9,409.3 Q595.7,409.3 595.7,410.6 M594.1,460 Q594.1,461.4 595.7,461.4" fill="none" stroke="#111" stroke-width="1.68"/>
<path d="M597.3,461.2 L597.3,410.6 Q597.3,409.3 598.1,409.3 Q598.9,409.3 598.9,410.6 M597.3,460 Q597.3,461.4 598.9,461.4" fill="none" stroke="#111" stroke-width="1.68"/>
<line x1="562.5" y1="409.5" x2="577.5" y2="409.5" stroke="#1c1c1c" stroke-width="0.90" />
<line x1="562.5" y1="461.5" x2="577.5" y2="461.5" stroke="#1c1c1c" stroke-width="0.90" />
<line x1="583.5" y1="409.5" x2="598.5" y2="409.5" stroke="#1c1c1c" stroke-width="0.90" />
<line x1="583.5" y1="461.5" x2="598.5" y2="461.5" stroke="#1c1c1c" stroke-width="0.90" />
<path d="M576.8,409.5 Q575.2,422 577.2,435 Q579.2,448 576.8,461.5" fill="none" stroke="#1c1c1c" stroke-width="1.44" />
<path d="M584,409.5 Q582.2,422 583.2,435 Q584.4,448 584,461.5" fill="none" stroke="#1c1c1c" stroke-width="1.56" />
<path d="M598.5,409.5 L603,414.2 L616,414.2 L616,458 L603,458 L598.5,461.5" fill="none" stroke="#1c1c1c" stroke-width="1.20" stroke-linejoin="round"/>
<path d="M616,412.4 L624,412.4 L624,460.2 L616,460.2" fill="none" stroke="#1c1c1c" stroke-width="1.20" stroke-linejoin="round"/>
<rect x="621.6" y="412.5" width="4" height="47.6" fill="#999"/>
<path d="M624,410 L627.5,403 L688.5,403 L688.5,467 L627.5,467 L624,460 Z" fill="none" stroke="#1c1c1c" stroke-width="1.44" />
<line x1="624.5" y1="410" x2="624.5" y2="460" stroke="#1c1c1c" stroke-width="1.20" />
<line x1="665.5" y1="403.5" x2="665.5" y2="466.5" stroke="#1c1c1c" stroke-width="0.70" />
<path d="M665.6,403.5 L667.05,410 L664.15,410 Z" fill="#1c1c1c" stroke="none"/>
<path d="M665.6,466.5 L664.15,460 L667.05,460 Z" fill="#1c1c1c" stroke="none"/>
<text class="t" transform="translate(662.52,446.63) rotate(-90) scale(0.840,1)" font-size="15.03" font-style="italic" letter-spacing="0.09" fill="#404040">ø50</text>
<line x1="521.5" y1="389.5" x2="521.5" y2="598" stroke="#1c1c1c" stroke-width="0.70" />
<line x1="688.5" y1="389.5" x2="688.5" y2="403" stroke="#1c1c1c" stroke-width="0.70" />
<line x1="521.6" y1="392.5" x2="688" y2="392.5" stroke="#1c1c1c" stroke-width="0.70" />
<path d="M521.6,392.4 L528.1,390.95 L528.1,393.85 Z" fill="#1c1c1c" stroke="none"/>
<path d="M688,392.4 L681.5,393.85 L681.5,390.95 Z" fill="#1c1c1c" stroke="none"/>
<text class="t" transform="translate(557.24,390) scale(0.840,1)" font-size="12.53" font-style="italic" letter-spacing="0.21" fill="#404040">min 187 - max 377</text>
<text class="t" transform="translate(395.45,397.3) scale(0.840,1)" font-size="11.87" font-style="italic" letter-spacing="0.65" fill="#404040">min 45 - max 55</text>
<line x1="392" y1="401.5" x2="482" y2="401.5" stroke="#1c1c1c" stroke-width="0.70" />
<line x1="482" y1="401.6" x2="490.8" y2="466" stroke="#1c1c1c" stroke-width="0.70" />
<line x1="491.5" y1="435.3" x2="491.5" y2="510.7" stroke="#1c1c1c" stroke-width="0.70" />
<path d="M491.6,435.3 L493.05,441.8 L490.15,441.8 Z" fill="#1c1c1c" stroke="none"/>
<path d="M491.6,510.7 L490.15,504.2 L493.05,504.2 Z" fill="#1c1c1c" stroke="none"/>
<line x1="377.5" y1="336.5" x2="377.5" y2="539.5" stroke="#1c1c1c" stroke-width="0.70" />
<line x1="366" y1="367.5" x2="380.5" y2="367.5" stroke="#1c1c1c" stroke-width="0.70" />
<line x1="370" y1="383.5" x2="380.5" y2="383.5" stroke="#1c1c1c" stroke-width="0.70" />
<path d="M377,367.6 L378.45,374.1 L375.55,374.1 Z" fill="#1c1c1c" stroke="none"/>
<path d="M377,383.6 L375.55,377.1 L378.45,377.1 Z" fill="#1c1c1c" stroke="none"/>
<path d="M377,384.2 L378.45,390.7 L375.55,390.7 Z" fill="#1c1c1c" stroke="none"/>
<path d="M377,539.5 L375.55,533 L378.45,533 Z" fill="#1c1c1c" stroke="none"/>
<text class="t" transform="translate(373,356.98) rotate(-90) scale(0.718,1)" font-size="12.71" font-style="italic" fill="#404040">&lt;13</text>
<text class="t" transform="translate(373.3,469.24) rotate(-90) scale(0.721,1)" font-size="13.14" font-style="italic" fill="#404040">123</text>
<line x1="237.5" y1="451" x2="237.5" y2="600.5" stroke="#1c1c1c" stroke-width="0.70" />
<line x1="297.5" y1="540" x2="297.5" y2="581" stroke="#1c1c1c" stroke-width="0.70" />
<line x1="482.5" y1="545.5" x2="482.5" y2="581" stroke="#1c1c1c" stroke-width="0.70" />
<line x1="322.4" y1="558.5" x2="413.6" y2="558.5" stroke="#1c1c1c" stroke-width="0.70" />
<path d="M322.4,558.5 L328.9,557.05 L328.9,559.95 Z" fill="#1c1c1c" stroke="none"/>
<path d="M413.6,558.5 L407.1,559.95 L407.1,557.05 Z" fill="#1c1c1c" stroke="none"/>
<text class="t" transform="translate(361.69,554.6) scale(0.840,1)" font-size="12.00" font-style="italic" letter-spacing="1.93" fill="#404040">72</text>
<line x1="297.2" y1="578.5" x2="482" y2="578.5" stroke="#1c1c1c" stroke-width="0.70" />
<path d="M297.2,578 L303.7,576.55 L303.7,579.45 Z" fill="#1c1c1c" stroke="none"/>
<path d="M482,578 L475.5,579.45 L475.5,576.55 Z" fill="#1c1c1c" stroke="none"/>
<text class="t" transform="translate(381.47,573.6) scale(0.767,1)" font-size="11.86" font-style="italic" fill="#404040">146</text>
<line x1="237.6" y1="597.5" x2="521.6" y2="597.5" stroke="#1c1c1c" stroke-width="0.70" />
<path d="M237.6,597.5 L244.1,596.05 L244.1,598.95 Z" fill="#1c1c1c" stroke="none"/>
<path d="M521.6,597.5 L515.1,598.95 L515.1,596.05 Z" fill="#1c1c1c" stroke="none"/>
<text class="t" transform="translate(365.4,592.53) scale(0.840,1)" font-size="11.76" font-style="italic" letter-spacing="0.84" fill="#404040">224,5</text>
</svg></body></html>
